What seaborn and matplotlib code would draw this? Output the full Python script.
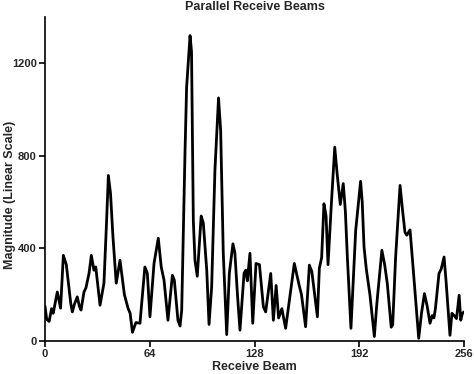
from matplotlib import pyplot as plt
import pandas as pd
import seaborn as sns

# traced vertices of the beam profile (beam index, magnitude)
beam = [0, 1, 2.5, 4, 5, 7.5, 9.5, 11.2, 13, 15.7, 16.7, 18, 19.7, 21, 22, 23.8, 25,
        26.9, 28.3, 29.9, 31, 33.6, 36, 37.5, 38.7, 40, 41.5, 43.5, 45.8, 48.5, 50.8,
        52, 53.4, 55.5, 58, 61, 62.5, 64.1, 66.6, 69.2, 71, 72.7, 75.1, 77.8, 79,
        81.2, 82.5, 83.5, 85.5, 86.5, 88.6, 89.5, 90.6, 91.6, 93, 95.4, 96.7, 98.8,
        100.2, 101.8, 103.8, 106, 107.3, 108.9, 111, 112.6, 114.8, 116, 117.5, 119.1,
        121.6, 122.6, 123.6, 125.2, 126.9, 128.9, 131, 133.4, 134.8, 137.9, 139.5,
        141.2, 142.7, 144.7, 147, 148.6, 152.3, 155.3, 156.7, 159.2, 161.5, 163,
        166.4, 167.6, 169, 170.4, 171.7, 172.9, 175, 177, 178.5, 180.4, 182.2, 183.5,
        184.7, 186.9, 189.8, 192.8, 193.8, 194.9, 196.3, 198.5, 201.2, 202.7, 205.8,
        207.5, 209.1, 211.5, 212.4, 214.2, 216.9, 218.5, 219.9, 221, 223, 224.5,
        228.3, 230, 231.8, 233.5, 235.2, 236.5, 237.6, 238.5, 240.7, 242, 243.8, 245,
        247.4, 248.6, 250, 251.4, 253, 254, 255, 256]
magnitude = [150, 95, 85, 140, 120, 212, 142, 370, 330, 164, 126, 160, 191, 150, 134,
             212, 230, 293, 370, 306, 320, 155, 250, 500, 715, 638, 450, 250, 349,
             200, 140, 120, 38, 80, 77, 320, 293, 105, 336, 444, 320, 263, 90, 284,
             263, 90, 65, 134, 810, 1096, 1319, 1250, 521, 349, 280, 540, 510, 306,
             72, 234, 737, 1050, 909, 379, 28, 293, 420, 380, 207, 47, 293, 306, 260,
             379, 77, 335, 330, 148, 126, 292, 90, 240, 100, 140, 55, 140, 335, 240,
             200, 62, 328, 300, 105, 315, 360, 593, 540, 330, 600, 837, 720, 590, 680,
             560, 363, 55, 478, 690, 600, 406, 310, 200, 20, 160, 392, 330, 249, 60,
             70, 363, 672, 560, 470, 457, 480, 350, 12, 120, 205, 150, 77, 110, 100,
             140, 292, 310, 363, 260, 25, 120, 110, 97, 198, 90, 120, 126]

x_ticks = [0, 64, 128, 192, 256]
y_ticks = [0, 400, 800, 1200]

df = pd.DataFrame({'Receive Beam': beam, 'Magnitude': magnitude})

sns.set_style('ticks')
plt.rcParams['font.family'] = ['Liberation Sans', 'DejaVu Sans']
plt.rcParams['font.weight'] = 'bold'

fig = plt.figure(figsize=(4.74, 3.74), dpi=100)
ax = fig.add_axes([0.095, 0.088, 0.884, 0.867])
sns.lineplot(data=df, x='Receive Beam', y='Magnitude', color='black',
             linewidth=2.0, ax=ax)

ax.set_xlim(0, 256)
ax.set_ylim(0, 1400)
ax.set_xticks(x_ticks)
ax.set_yticks(y_ticks)
ax.tick_params(labelsize=8, length=4, width=1.2, color='black', pad=2)
for lab in ax.get_xticklabels() + ax.get_yticklabels():
    lab.set_fontweight('bold')
ax.set_title('Parallel Receive Beams', fontsize=9, fontweight='bold', pad=5)
ax.set_xlabel('Receive Beam', fontsize=9, fontweight='bold', labelpad=1)
ax.set_ylabel('Magnitude (Linear Scale)', fontsize=9, fontweight='bold')
ax.yaxis.set_label_coords(-0.07, 0.45)
for s in ['left', 'bottom']:
    ax.spines[s].set_linewidth(1.2)
    ax.spines[s].set_color('black')
sns.despine(ax=ax)

fig.savefig('out.png', dpi=100)
